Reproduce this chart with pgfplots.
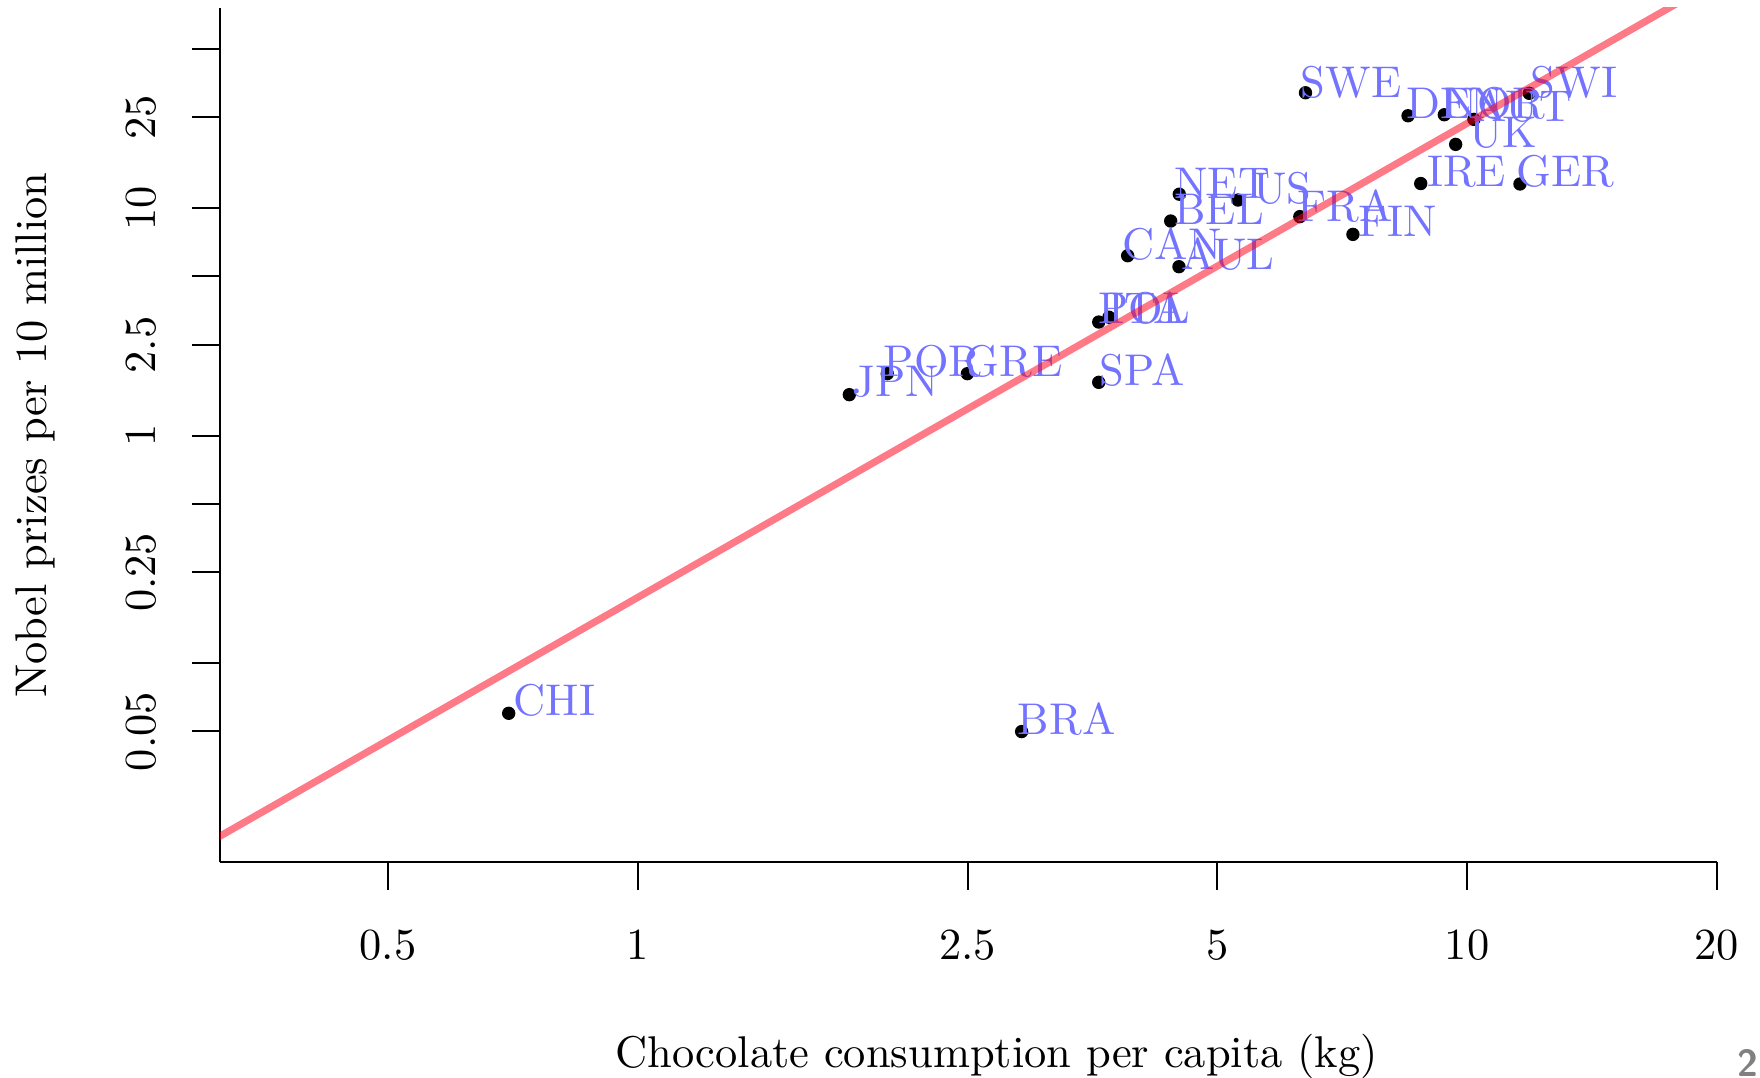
\documentclass[border=0pt]{standalone}
\usepackage{pgfplots}
\usepackage{pgfplotstable}
\pgfplotsset{compat=1.18}
\definecolor{labblue}{RGB}{115,115,255}
\definecolor{fitred}{RGB}{255,0,25}
\pgfplotstableread{
lab x y
SWE 6.385 32.11
DEN 8.488 25.44
NOR 9.387 25.70
AUT 10.19 24.53
SWI 11.88 31.93
UK 9.687 19.04
IRE 8.792 12.81
GER 11.58 12.75
NET 4.498 11.50
US 5.295 10.84
BEL 4.392 8.765
FRA 6.286 9.163
FIN 7.284 7.657
CAN 3.898 6.171
AUL 4.494 5.521
POL 3.597 3.153
ITA 3.701 3.311
JPN 1.800 1.512
POR 2.000 1.870
GRE 2.498 1.870
SPA 3.597 1.713
CHI 0.6993 0.06011
BRA 2.904 0.04995
}\points
\pgfplotstableread{
lab x y
SWE 6.286 30.65
DEN 8.425 24.76
NOR 9.367 24.76
AUT 10.16 24.06
SWI 11.91 30.65
UK 10.03 18.47
IRE 8.925 12.41
GER 11.435 12.41
NET 4.428 11.03
US 5.507 10.49
BEL 4.428 8.424
FRA 6.228 8.706
FIN 7.381 7.485
CAN 3.837 5.910
AUL 4.511 5.342
POL 3.582 3.114
ITA 3.690 3.114
JPN 1.8135 1.482
POR 1.976 1.8135
GRE 2.472 1.8135
SPA 3.599 1.667
CHI 0.7076 0.05851
BRA 2.867 0.04828
}\labels
\begin{document}
\begin{tikzpicture}
\useasboundingbox (-49.50pt,-48.49pt) rectangle (346.50pt,193.96pt);
\begin{axis}[
  at={(0pt,0pt)}, anchor=south west,
  scale only axis, width=336.78pt, height=192.19pt,
  xmode=log, ymode=log,
  xmin=0.3138, xmax=20, ymin=0.01334, ymax=75.8,
  axis x line*=bottom, axis y line*=left,
  axis line style={black, line width=0.45pt},
  tick align=outside, major tick length=6.3pt,
  every tick/.style={black, line width=0.45pt},
  xtick={0.5,1,2.5,5,10,20}, xticklabels={0.5,1,2.5,5,10,20},
  ytick={0.05,0.1,0.25,0.5,1,2.5,5,10,25,50},
  yticklabels={0.05,{},0.25,{},1,2.5,{},10,25,{}},
  minor xtick={}, minor ytick={},
  xticklabel style={anchor=base}, xticklabel shift=15.75pt,
  yticklabel style={rotate=90, anchor=base}, yticklabel shift=8.32pt,
  xlabel={Chocolate consumption per capita (kg)},
  ylabel={Nobel prizes per 10 million},
  xlabel style={at={(axis description cs:0.5189,-0.24112)}, anchor=base},
  ylabel style={at={(axis description cs:-0.1158,0.5)}, anchor=base},
  clip marker paths=true,
]
\addplot[only marks, mark=*, mark size=1.3pt, black] table[x=x, y=y] {\points};
\addplot[draw=none, mark=none, nodes near coords, point meta=explicit symbolic,
  every node near coord/.append style={anchor=base west, inner sep=0pt, text=labblue}]
  table[x=x, y=y, meta=lab] {\labels};
\addplot[fitred, opacity=0.52, line width=1.6pt] coordinates {(0.3,0.01578) (20,99.86)};
\end{axis}
\node[anchor=base east, inner sep=0pt, text=gray, font=\sffamily\bfseries\fontsize{8.5}{9}\selectfont] at (346.3pt,-48.2pt) {2};
\end{tikzpicture}
\end{document}
